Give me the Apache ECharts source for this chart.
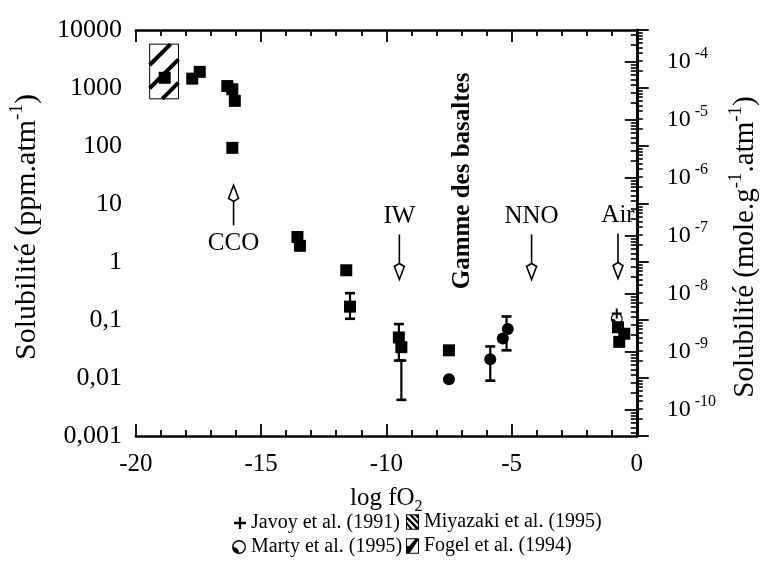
<!DOCTYPE html>
<html><head><meta charset="utf-8">
<script src="https://cdn.jsdelivr.net/npm/echarts@6/dist/echarts.min.js"></script>
<style>html,body{margin:0;padding:0;background:#fff}#c{width:772px;height:563px}</style>
</head><body><div id="c"></div>
<script>
// ---------- data ----------
const squareX = [-18.85, -17.75, -17.45, -16.35, -16.15, -16.05, -16.15, -13.55, -13.45, -11.6, -11.45, -9.5, -9.4, -7.5, -0.75, -0.5, -0.7];
const squareY = [1500, 1450, 1900, 1080, 950, 600, 93, 2.7, 1.9, 0.72, 0.17, 0.05, 0.034, 0.03, 0.075, 0.058, 0.042];
const circleX = [-7.5, -5.85, -5.15, -5.35];
const circleY = [0.0095, 0.021, 0.07, 0.048];
const errX = [-11.45, -9.5, -9.4, -5.85, -5.2];
const errLow = [0.105, 0.02, 0.0042, 0.009, 0.03];
const errHigh = [0.29, 0.085, 0.02, 0.035, 0.115];
const javoyX = [-0.8];
const javoyY = [0.13];
const martyX = [-0.8];
const martyY = [0.105];
const fogelBoxX = [-19.45, -18.3];
const fogelBoxY = [650, 5700];
const leftTickValues = [0.001, 0.01, 0.1, 1, 10, 100, 1000, 10000];
const leftTickLabels = ['0,001', '0,01', '0,1', '1', '10', '100', '1000', '10000'];
const rightTickExponents = [-10, -9, -8, -7, -6, -5, -4];
const ppmPerMole = 2.8e7; // ppm.atm-1 per mole.g-1.atm-1 (N2)
const xMin = -20, xMax = 0, xStep = 5;
const annoNames = ['CCO', 'IW', 'NNO', 'Air'];
const annoX = [-16.1, -9.48, -4.2, -0.75];
const annoTipY = [21, 0.5, 0.5, 0.52];
const annoDir = [1, -1, -1, -1];
const basaltText = 'Gamme des basaltes';
const basaltPos = [-6.94, 25];
const seriesNames = ['Javoy et al. (1991)', 'Miyazaki et al. (1995)', 'Marty et al. (1995)', 'Fogel et al. (1994)'];

// ---------- helpers ----------
const FONT = 'Liberation Serif';
const pairs = (xs, ys) => xs.map((x, i) => [x, ys[i]]);
const minorLeft = [];
for (let n = -3; n < 4; n++) for (let k = 2; k < 10; k++) minorLeft.push(k * Math.pow(10, n));
const minorRight = [];
for (let n = -11; n < -3; n++) for (let k = 2; k < 10; k++) minorRight.push(k * Math.pow(10, n));
const rightMin = leftTickValues[0] / ppmPerMole;
const rightMax = leftTickValues[leftTickValues.length - 1] / ppmPerMole;

const crossIcon = 'path://M4,0 L6,0 L6,4 L10,4 L10,6 L6,6 L6,10 L4,10 L4,6 L0,6 L0,4 L4,4 Z';
const martyIcon = 'path://M0,10 A10,10 0 1 1 20,10 A10,10 0 1 1 0,10 Z M2,10 A8,8 0 1 0 18,10 A8,8 0 1 0 2,10 Z M2,10 A8,8 0 0 0 10,18 L9,14 L6,11 Z';
const frame = 'M0,0 L20,0 L20,24 L0,24 Z M1.5,1.5 L1.5,22.5 L18.5,22.5 L18.5,1.5 Z ';
const miyIcon = 'path://' + frame + 'M1.5,3 L1.5,8 L15,22.5 L18.5,22.5 L18.5,20 Z M1.5,12 L1.5,17 L6,22.5 L10,22.5 Z M5,1.5 L10,1.5 L18.5,11 L18.5,16 Z M13,1.5 L18.5,1.5 L18.5,7 Z';
const fogelIcon = 'path://' + frame + 'M1.5,22.5 L1.5,16 L14,1.5 L18.5,1.5 L18.5,4 L6,22.5 Z M1.5,22.5 L1.5,12 L8,12 Z';

function renderErr(params, api) {
  const x = api.value(0);
  const p1 = api.coord([x, api.value(1)]);
  const p2 = api.coord([x, api.value(2)]);
  const w = 5;
  const st = { stroke: '#000', lineWidth: 2.2 };
  return { type: 'group', children: [
    { type: 'line', shape: { x1: p1[0], y1: p1[1], x2: p2[0], y2: p2[1] }, style: st },
    { type: 'line', shape: { x1: p1[0] - w, y1: p1[1], x2: p1[0] + w, y2: p1[1] }, style: { stroke: '#000', lineWidth: 2.6 } },
    { type: 'line', shape: { x1: p2[0] - w, y1: p2[1], x2: p2[0] + w, y2: p2[1] }, style: { stroke: '#000', lineWidth: 2.6 } }
  ] };
}

function renderBox(params, api) {
  const tl = api.coord([api.value(0), api.value(3)]);
  const br = api.coord([api.value(1), api.value(2)]);
  const x0 = tl[0], y0 = tl[1], x1 = br[0], y1 = br[1];
  const children = [{ type: 'rect', shape: { x: x0, y: y0, width: x1 - x0, height: y1 - y0 }, style: { fill: '#fff', stroke: '#000', lineWidth: 1 } }];
  const cMin = x0 + y0, cMax = x1 + y1;
  const sp = (cMax - cMin) / 3.6;
  for (let k = 1; k <= 3; k++) {
    const c = cMin + (k - 0.1) * sp;
    const xa = Math.max(x0, c - y1), xb = Math.min(x1, c - y0);
    if (xb > xa) children.push({ type: 'line', shape: { x1: xa, y1: c - xa, x2: xb, y2: c - xb }, style: { stroke: '#000', lineWidth: 4 } });
  }
  return { type: 'group', children };
}

function renderAnno(params, api) {
  const p = api.coord([api.value(0), api.value(1)]);
  const dir = api.value(2);
  const L = dir > 0 ? 40 : 45, hw = 5, hh = 13;
  const tail = p[1] + dir * L;
  const baseY = p[1] + dir * hh;
  return { type: 'group', children: [
    { type: 'line', shape: { x1: p[0], y1: tail, x2: p[0], y2: baseY }, style: { stroke: '#000', lineWidth: 1.6 } },
    { type: 'polygon', shape: { points: [[p[0], p[1]], [p[0] - hw, baseY], [p[0], baseY + dir * 3], [p[0] + hw, baseY]] }, style: { fill: '#fff', stroke: '#000', lineWidth: 1.6 } },
    { type: 'text', x: p[0], y: tail + dir * 18, style: { text: annoNames[params.dataIndex], fontFamily: FONT, fontSize: 25, fill: '#000', align: 'center', verticalAlign: 'middle' } }
  ] };
}

function renderBasalt(params, api) {
  const p = api.coord([api.value(0), api.value(1)]);
  return { type: 'text', x: p[0], y: p[1], rotation: Math.PI / 2, style: { text: basaltText, fontFamily: FONT, fontSize: 25, fontWeight: 'bold', fill: '#000', align: 'center', verticalAlign: 'middle' } };
}

const xLabelStyle = { fontFamily: FONT, fontSize: 25, color: '#000' };
const yLabelStyle = { fontFamily: FONT, fontSize: 26, color: '#000' };
const mkName = (fs, pad) => ({
  fontFamily: FONT, fontSize: fs, color: '#000', lineHeight: fs + 8, padding: pad || 0,
  rich: {
    b: { fontFamily: FONT, fontSize: fs, color: '#000', lineHeight: fs + 8 },
    sup: { fontFamily: FONT, fontSize: Math.round(fs * 0.64), color: '#000', lineHeight: Math.round(fs * 0.64), verticalAlign: 'top' },
    sub: { fontFamily: FONT, fontSize: Math.round(fs * 0.64), color: '#000', lineHeight: Math.round(fs * 0.64), verticalAlign: 'bottom' }
  }
});
const lineStyle = { color: '#000', width: 2.6 };
const solid = { color: '#000', opacity: 1 };

const xAxisBase = {
  type: 'value', min: xMin, max: xMax, interval: xStep,
  splitLine: { show: false },
  axisLine: { onZero: false, lineStyle },
  axisTick: { inside: true, length: 12, lineStyle: { color: '#000', width: 1.8 } },
  minorTick: { show: true, splitNumber: 5, length: 6, lineStyle: { color: '#000', width: 1.8 } }
};

const option = {
  backgroundColor: '#fff',
  animation: false,
  grid: { left: 128, right: 108, top: 30, bottom: 127, containLabel: false },
  xAxis: [
    Object.assign({}, xAxisBase, {
      position: 'bottom',
      name: '{b|log fO}{sub|2}', nameLocation: 'middle', nameGap: 36, nameTextStyle: mkName(25),
      axisLabel: Object.assign({ margin: 16 }, xLabelStyle)
    }),
    Object.assign({}, xAxisBase, { position: 'top', axisLabel: { show: false } })
  ],
  yAxis: [
    {
      type: 'log', logBase: 10, min: leftTickValues[0], max: leftTickValues[leftTickValues.length - 1], position: 'left',
      splitLine: { show: false },
      axisLine: { lineStyle },
      axisTick: { inside: true, length: 12, customValues: leftTickValues, lineStyle: { color: '#000', width: 1.8 } },
      axisLabel: Object.assign({ margin: 14, customValues: leftTickValues,
        formatter: v => leftTickLabels[leftTickValues.findIndex(t => Math.abs(Math.log10(t) - Math.log10(v)) < 1e-6)] }, yLabelStyle),
      name: '{b|Solubilité (ppm.atm}{sup|-1}{b|)}', nameLocation: 'middle', nameGap: 86, nameTextStyle: mkName(30, [0, 0, 0, 12])
    },
    {
      type: 'log', logBase: 10, min: leftTickValues[0], max: leftTickValues[leftTickValues.length - 1], position: 'left',
      splitLine: { show: false }, axisLine: { show: false }, axisLabel: { show: false },
      axisTick: { inside: true, length: 6, customValues: minorLeft, lineStyle: { color: '#000', width: 1.6 } }
    },
    {
      type: 'log', logBase: 10, min: rightMin, max: rightMax, position: 'right',
      splitLine: { show: false },
      axisLine: { lineStyle },
      axisTick: { inside: true, length: 12, customValues: rightTickExponents.map(e => Math.pow(10, e)), lineStyle: { color: '#000', width: 1.8 } },
      axisLabel: {
        margin: 30, align: 'left', customValues: rightTickExponents.map(e => Math.pow(10, e)),
        formatter: v => '{b|10}{sup| ' + Math.round(Math.log10(v)) + '}',
        rich: {
          b: { fontFamily: FONT, fontSize: 24, color: '#000', lineHeight: 32 },
          sup: { fontFamily: FONT, fontSize: 16, color: '#000', lineHeight: 16, verticalAlign: 'top' }
        }
      },
      name: '{b|Solubilité (mole.g}{sup|-1}{b|.atm}{sup|-1}{b|)}', nameLocation: 'middle', nameGap: 79, nameTextStyle: mkName(29, [0, 28, 0, 0])
    },
    {
      type: 'log', logBase: 10, min: rightMin, max: rightMax, position: 'right',
      splitLine: { show: false }, axisLine: { show: false }, axisLabel: { show: false },
      axisTick: { inside: true, length: 6, customValues: minorRight, lineStyle: { color: '#000', width: 1.6 } }
    }
  ],
  legend: [
    { left: 234, top: 513, data: [{ name: seriesNames[0], icon: crossIcon }], itemWidth: 12, itemHeight: 12 },
    { left: 406, top: 512, data: [{ name: seriesNames[1], icon: miyIcon }], itemWidth: 13, itemHeight: 18 },
    { left: 232, top: 537, data: [{ name: seriesNames[2], icon: martyIcon }], itemWidth: 14, itemHeight: 14 },
    { left: 406, top: 536, data: [{ name: seriesNames[3], icon: fogelIcon }], itemWidth: 13, itemHeight: 18 }
  ].map(l => Object.assign({ selectedMode: false, padding: 0, textStyle: { fontFamily: FONT, fontSize: 20, color: '#000' } }, l)),
  series: [
    { type: 'custom', name: seriesNames[3], renderItem: renderBox, itemStyle: solid,
      data: [[fogelBoxX[0], fogelBoxX[1], fogelBoxY[0], fogelBoxY[1]]], encode: { x: [0, 1], y: [2, 3] }, z: 2 },
    { type: 'scatter', name: 'Données', symbol: 'rect', symbolSize: 12, itemStyle: solid, data: pairs(squareX, squareY), z: 4 },
    { type: 'scatter', name: 'Cercles', symbol: 'circle', symbolSize: 12, itemStyle: solid, data: pairs(circleX, circleY), z: 4 },
    { type: 'custom', name: 'Erreurs', renderItem: renderErr, data: errX.map((x, i) => [x, errLow[i], errHigh[i]]), encode: { x: 0, y: [1, 2] }, z: 3 },
    { type: 'scatter', name: seriesNames[2], symbol: martyIcon, symbolSize: 12, itemStyle: solid, data: pairs(martyX, martyY), z: 5 },
    { type: 'scatter', name: seriesNames[0], symbol: crossIcon, symbolSize: 10, itemStyle: solid, data: pairs(javoyX, javoyY), z: 6 },
    { type: 'scatter', name: seriesNames[1], symbol: miyIcon, itemStyle: solid, data: [] },
    { type: 'custom', name: 'Annotations', renderItem: renderAnno, data: annoX.map((x, i) => [x, annoTipY[i], annoDir[i]]), encode: { x: 0, y: 1 }, z: 6, clip: false },
    { type: 'custom', name: 'Basaltes', renderItem: renderBasalt, data: [basaltPos], encode: { x: 0, y: 1 }, z: 6, clip: false }
  ]
};

const chart = echarts.init(document.getElementById('c'), null, { renderer: 'canvas' });
chart.setOption(option);
</script>
</body></html>
